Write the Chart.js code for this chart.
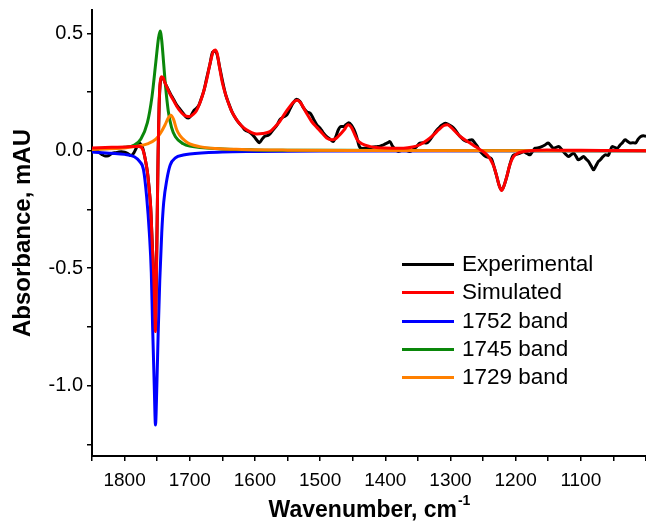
<!DOCTYPE html>
<html>
<head>
<meta charset="utf-8">
<script src="https://cdn.jsdelivr.net/npm/chart.js@4"></script>
<style>
  html, body { margin: 0; padding: 0; background: #fff; }
  #wrap { position: relative; width: 646px; height: 526px; }
  #legend { position: absolute; left: 402px; top: 250px; font-family: "Liberation Sans", Arial, sans-serif; font-size: 22.5px; color: #000; }
  .row { position: absolute; left: 0; height: 28px; white-space: nowrap; }
  .row .swatch { position: absolute; left: 0; top: 13px; width: 52px; height: 3px; }
  .row span.txt { position: absolute; left: 60px; top: 1px; line-height: 26px; }
</style>
</head>
<body>
<div id="wrap">
  <canvas id="ftirChart" width="646" height="526"></canvas>
  <div id="legend"></div>
</div>
<script>
// spectra (wavenumber cm-1 -> absorbance mAU)

const SERIES_NAMES = ["Experimental", "Simulated", "1752 band", "1745 band", "1729 band"];
const SERIES_COLORS = ["#000000", "#ff0000", "#0000ff", "#0a870a", "#ff8000"];

const wnExp = [1850, 1845, 1840, 1835, 1830, 1825, 1820, 1815, 1810, 1805, 1800, 1795, 1790, 1786, 1782, 1778, 1775, 1772, 1768, 1765, 1762, 1760, 1757.5, 1755, 1753.5, 1752.8, 1751.5, 1750, 1748.5, 1747, 1745.5, 1743.5, 1741, 1738, 1735, 1730, 1725, 1720, 1715, 1710, 1706, 1702, 1698, 1694, 1690, 1686, 1682, 1678, 1674, 1669, 1665, 1661, 1658, 1654, 1650, 1645, 1640, 1635, 1630, 1625, 1620, 1615, 1610, 1606, 1601, 1597, 1593, 1589, 1585, 1580, 1576, 1572, 1566, 1562, 1556, 1551, 1546, 1541, 1536, 1531, 1526, 1520, 1515, 1510, 1505, 1500, 1496, 1490, 1485, 1480, 1476, 1472, 1468, 1464, 1460, 1456, 1452, 1448, 1444, 1440, 1436, 1430, 1425, 1420, 1413, 1408, 1404, 1400, 1396, 1393, 1389, 1384, 1380, 1375, 1370, 1366, 1362, 1357, 1352, 1347, 1342, 1337, 1332, 1327, 1322, 1318, 1313, 1308, 1303, 1298, 1293, 1288, 1283, 1279, 1275, 1271, 1267, 1263, 1259, 1255, 1250, 1246, 1241, 1237, 1233, 1229, 1225, 1221.5, 1218, 1213.5, 1209, 1204, 1199, 1193, 1188, 1182, 1178, 1174, 1170, 1165, 1160, 1155, 1150, 1146, 1142, 1138, 1134, 1130, 1127, 1123, 1119, 1115, 1111, 1107, 1104, 1100, 1096, 1092, 1088, 1084, 1080.5, 1077, 1073, 1070, 1066, 1062, 1058, 1055, 1052, 1048, 1044, 1040, 1036, 1032, 1028, 1024, 1020, 1016, 1012, 1008, 1004, 1000];
const absExp = [0.012, 0.004, -0.005, -0.015, -0.022, -0.021, -0.012, -0.008, -0.006, -0.004, -0.006, -0.012, -0.02, -0.01, 0.012, 0.033, 0.028, 0.01, -0.04, -0.09, -0.17, -0.24, -0.40, -0.55, -0.69, -0.75, -0.58, -0.29, 0.0, 0.19, 0.28, 0.31, 0.31, 0.29, 0.272, 0.245, 0.22, 0.195, 0.178, 0.16, 0.145, 0.14, 0.15, 0.17, 0.18, 0.195, 0.225, 0.26, 0.31, 0.37, 0.42, 0.425, 0.41, 0.355, 0.30, 0.24, 0.20, 0.165, 0.14, 0.12, 0.105, 0.088, 0.082, 0.075, 0.06, 0.045, 0.035, 0.05, 0.062, 0.066, 0.075, 0.09, 0.11, 0.132, 0.145, 0.153, 0.18, 0.205, 0.22, 0.21, 0.185, 0.165, 0.16, 0.135, 0.111, 0.097, 0.08, 0.061, 0.05, 0.04, 0.06, 0.09, 0.104, 0.104, 0.112, 0.12, 0.11, 0.09, 0.06, 0.02, 0.01, 0.011, 0.012, 0.015, 0.018, 0.02, 0.024, 0.03, 0.035, 0.04, 0.02, 0.005, -0.003, 0.002, 0.004, 0.0, -0.003, 0.006, 0.018, 0.033, 0.035, 0.033, 0.045, 0.065, 0.085, 0.097, 0.11, 0.118, 0.112, 0.104, 0.09, 0.07, 0.055, 0.045, 0.04, 0.045, 0.047, 0.035, 0.02, 0.0, -0.015, -0.024, -0.028, -0.035, -0.07, -0.109, -0.15, -0.167, -0.15, -0.109, -0.06, -0.02, -0.015, -0.01, -0.004, -0.012, -0.017, -0.002, 0.011, 0.013, 0.018, 0.025, 0.033, 0.022, 0.011, 0.015, 0.018, 0.008, -0.003, -0.015, -0.024, -0.017, -0.01, -0.025, -0.038, -0.033, -0.024, -0.035, -0.046, -0.065, -0.081, -0.065, -0.045, -0.038, -0.025, -0.017, -0.02, 0.0, 0.018, 0.015, 0.011, 0.024, 0.035, 0.047, 0.04, 0.033, 0.035, 0.033, 0.05, 0.061, 0.064, 0.062];

const wnSim = [1850, 1820, 1800, 1785, 1778, 1772, 1768, 1765, 1762, 1760, 1757.5, 1755, 1753.5, 1752.8, 1751.5, 1750, 1748.5, 1747, 1745.5, 1743.5, 1741, 1738, 1735, 1730, 1725, 1720, 1715, 1710, 1705, 1700, 1695, 1690, 1684.6, 1680, 1674.3, 1669, 1664, 1661, 1658, 1654, 1650, 1644, 1636, 1628, 1620, 1613, 1605, 1597, 1588, 1577, 1570, 1562, 1554, 1546, 1540, 1535, 1530, 1521, 1513, 1505, 1500, 1490, 1482, 1476, 1470, 1463, 1457, 1452, 1447, 1443, 1436, 1423, 1400, 1372, 1358, 1347, 1336, 1326, 1318, 1310, 1305, 1299, 1292, 1285, 1270, 1260, 1250, 1243, 1238, 1233, 1229, 1225, 1221.5, 1218, 1213.5, 1209, 1203, 1195, 1188, 1170, 1152, 1100, 1050, 1000];
const absSim = [0.012, 0.015, 0.016, 0.018, 0.018, 0.005, -0.04, -0.09, -0.17, -0.24, -0.40, -0.55, -0.70, -0.77, -0.60, -0.30, 0.0, 0.20, 0.29, 0.316, 0.312, 0.29, 0.27, 0.24, 0.215, 0.19, 0.17, 0.155, 0.147, 0.146, 0.155, 0.17, 0.203, 0.24, 0.30, 0.37, 0.423, 0.43, 0.415, 0.35, 0.29, 0.231, 0.17, 0.132, 0.105, 0.09, 0.078, 0.072, 0.074, 0.082, 0.10, 0.125, 0.16, 0.19, 0.21, 0.216, 0.205, 0.161, 0.125, 0.10, 0.085, 0.055, 0.047, 0.052, 0.068, 0.09, 0.111, 0.10, 0.07, 0.047, 0.03, 0.018, 0.012, 0.011, 0.016, 0.026, 0.045, 0.068, 0.09, 0.108, 0.111, 0.10, 0.08, 0.061, 0.033, 0.015, -0.003, -0.02, -0.04, -0.07, -0.109, -0.15, -0.169, -0.15, -0.109, -0.06, -0.024, -0.008, -0.003, 0.002, 0.004, 0.002, 0.001, 0.0];

const wnBand1752 = [1850, 1820, 1800, 1785, 1777, 1771, 1766, 1762, 1759, 1757, 1754.5, 1752.6, 1750.5, 1748.5, 1746, 1743, 1740, 1735, 1730, 1722, 1710, 1700, 1650, 1600, 1500, 1000];
const band1752 = [-0.005, -0.010, -0.015, -0.025, -0.045, -0.08, -0.20, -0.35, -0.52, -0.75, -1.0, -1.168, -1.0, -0.78, -0.55, -0.35, -0.22, -0.12, -0.06, -0.03, -0.018, -0.013, -0.005, -0.003, -0.001, 0.0];

const wnBand1745 = [1850, 1800, 1785, 1775, 1765, 1758, 1752, 1748, 1745.5, 1743, 1740, 1737, 1733, 1728, 1722, 1710, 1700, 1650, 1600, 1500, 1000];
const band1745 = [0.008, 0.015, 0.025, 0.05, 0.12, 0.23, 0.38, 0.48, 0.511, 0.47, 0.37, 0.27, 0.17, 0.10, 0.06, 0.03, 0.02, 0.008, 0.004, 0.002, 0.0];

const wnBand1729 = [1850, 1800, 1780, 1765, 1752, 1745, 1738, 1733, 1729, 1725, 1720, 1715, 1708, 1700, 1685, 1660, 1620, 1550, 1450, 1000];
const band1729 = [0.006, 0.012, 0.02, 0.03, 0.05, 0.075, 0.11, 0.14, 0.152, 0.135, 0.09, 0.065, 0.045, 0.03, 0.018, 0.01, 0.006, 0.003, 0.001, 0.0];

const X_MIN = 1000, X_MAX = 1850;
const Y_MIN = -1.3, Y_MAX = 0.6;

const FONT = '"Liberation Sans", Arial, Helvetica, sans-serif';

function toPoints(xs, ys) {
  return xs.map((x, i) => ({ x: x, y: ys[i] }));
}

const seriesData = [
  toPoints(wnExp, absExp),
  toPoints(wnSim, absSim),
  toPoints(wnBand1752, band1752),
  toPoints(wnBand1745, band1745),
  toPoints(wnBand1729, band1729)
];
// red on top, then bands, experimental at the back
const drawOrder = [4, 0, 3, 2, 1];

const datasets = SERIES_NAMES.map((name, i) => ({
  label: name,
  data: seriesData[i],
  borderColor: SERIES_COLORS[i],
  backgroundColor: SERIES_COLORS[i],
  borderWidth: 3,
  pointRadius: 0,
  showLine: true,
  fill: false,
  cubicInterpolationMode: 'monotone',
  order: drawOrder[i]
}));

// x axis title with a superscript
const xTitlePlugin = {
  id: 'xTitle',
  afterDraw(chart) {
    const ctx = chart.ctx;
    const area = chart.chartArea;
    const main = 'Wavenumber, cm';
    const sup = '-1';
    ctx.save();
    ctx.fillStyle = '#000';
    ctx.textBaseline = 'alphabetic';
    ctx.font = 'bold 23px ' + FONT;
    const w1 = ctx.measureText(main).width;
    ctx.font = 'bold 14px ' + FONT;
    const w2 = ctx.measureText(sup).width;
    const x0 = (area.left + area.right) / 2 - (w1 + w2) / 2;
    ctx.font = 'bold 23px ' + FONT;
    ctx.textAlign = 'left';
    ctx.fillText(main, x0, 517);
    ctx.font = 'bold 14px ' + FONT;
    ctx.fillText(sup, x0 + w1 + 1, 505);
    ctx.restore();
  }
};

const ctx = document.getElementById('ftirChart').getContext('2d');
const chart = new Chart(ctx, {
  type: 'scatter',
  data: { datasets },
  options: {
    responsive: false,
    animation: false,
    devicePixelRatio: 1,
    layout: { padding: { top: 10, right: 0, left: 0, bottom: 0 } },
    scales: {
      x: {
        type: 'linear',
        reverse: true,
        min: X_MIN,
        max: X_MAX,
        afterFit: (scale) => {
          scale.height = 70;
          scale.paddingLeft = 0;
          scale.paddingRight = 0;
        },
        ticks: {
          stepSize: 50,
          maxTicksLimit: 100,
          includeBounds: false,
          autoSkip: false,
          maxRotation: 0,
          padding: 8,
          color: '#000',
          font: { family: FONT, size: 19 },
          callback: (v) => {
            const r = Math.round(v);
            return (r % 100 === 0 && r !== X_MIN) ? String(r) : '';
          }
        },
        grid: { drawOnChartArea: false, drawTicks: true, tickLength: 5, color: '#000', lineWidth: 1.5 },
        border: { display: true, color: '#000', width: 2 }
      },
      y: {
        type: 'linear',
        min: Y_MIN,
        max: Y_MAX,
        afterFit: (scale) => {
          scale.width = 92;
          scale.paddingTop = 0;
          scale.paddingBottom = 0;
        },
        ticks: {
          stepSize: 0.25,
          maxTicksLimit: 100,
          includeBounds: false,
          autoSkip: false,
          padding: 4,
          color: '#000',
          font: { family: FONT, size: 20 },
          callback: (v) => {
            const r = Math.round(v * 100) / 100;
            return Math.abs(r * 2 - Math.round(r * 2)) < 1e-6 ? r.toFixed(1) : '';
          }
        },
        grid: { drawOnChartArea: false, drawTicks: true, tickLength: 5, color: '#000', lineWidth: 1.5 },
        border: { display: true, color: '#000', width: 2 },
        title: {
          display: true,
          text: 'Absorbance, mAU',
          color: '#000',
          font: { family: FONT, size: 24, weight: 'bold' },
          padding: { top: 9, bottom: 0 }
        }
      }
    },
    plugins: {
      legend: { display: false },
      tooltip: { enabled: false }
    }
  },
  plugins: [xTitlePlugin]
});

// legend drawn as html next to the canvas
const legendEl = document.getElementById('legend');
SERIES_NAMES.forEach((name, i) => {
  const row = document.createElement('div');
  row.className = 'row';
  row.style.top = (i * 28.33) + 'px';
  row.innerHTML = '<div class="swatch" style="background:' + SERIES_COLORS[i] + '"></div><span class="txt">' + name + '</span>';
  legendEl.appendChild(row);
});
</script>
</body>
</html>
